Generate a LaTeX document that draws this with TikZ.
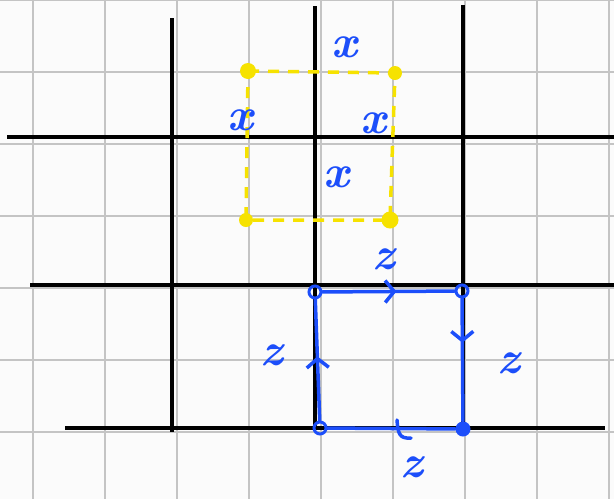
\documentclass[tikz,border=0pt]{standalone}
\usetikzlibrary{arrows.meta,decorations.markings}
\definecolor{gridgray}{RGB}{196,196,196}
\definecolor{bggray}{RGB}{251,251,251}
\definecolor{hlyellow}{RGB}{246,226,0}
\definecolor{penblue}{RGB}{28,78,250}
\begin{document}
\begin{tikzpicture}[x=1pt,y=-1pt,
  gridline/.style={draw=gridgray, line width=2.2pt},
  axisline/.style={draw=black, line width=3.2pt},
  ydash/.style={draw=hlyellow, line width=3.5pt, dash pattern=on 11pt off 9pt},
  ydot/.style={circle, fill=hlyellow, inner sep=0pt, minimum size=14pt},
  bcorner/.style={circle, draw=penblue, line width=3pt, inner sep=0pt, minimum size=12pt},
  bfilled/.style={circle, fill=penblue, inner sep=0pt, minimum size=15pt},
  bedge/.style={draw=penblue, line width=3.5pt, line cap=round},
  midarrow/.style={postaction={decorate}, decoration={markings,
     mark=at position #1 with {\arrow[penblue, line width=3.5pt]{Straight Barb[length=9pt,width=22pt]}}}},
  lbl/.style={text=penblue, inner sep=0pt, font=\fontsize{46}{46}\selectfont\bfseries\itshape},
]
\fill[bggray] (0,0) rectangle (614,499);
\useasboundingbox (0,0) rectangle (614,499);
% grid
\foreach \gx in {33,105,...,609} \draw[gridline] (\gx,0) -- (\gx,499);
\foreach \gy in {0,72,...,432} \draw[gridline] (0,\gy) -- (614,\gy);
% black lines
\draw[axisline] (7,137) -- (614,137);
\draw[axisline] (30,285) -- (614,285);
\draw[axisline] (65,428) -- (605,428);
\draw[axisline] (172,18) -- (172,432);
\draw[axisline] (315,6) -- (315,430);
\draw[axisline] (463,5) -- (463,429);
% yellow dashed square
\node[ydot, minimum size=16pt] (y1) at (248,71) {};
\node[ydot] (y2) at (395,73) {};
\node[ydot, minimum size=17pt] (y3) at (390,220) {};
\node[ydot] (y4) at (246,220) {};
\draw[ydash] (y1.center) -- (y2.center) -- (y3.center) -- (y4.center) -- cycle;
% blue labels x
\node[lbl] (xt) at (344,47) {x};
\node[lbl] (xl) at (240,120) {x};
\node[lbl] (xr) at (373,123) {x};
\node[lbl] (xc) at (336,177) {x};
% blue square
\node[bcorner] (b1) at (315,292) {};
\node[bcorner] (b2) at (462,291) {};
\node[bfilled] (b3) at (463,429) {};
\node[bcorner] (b4) at (320,428) {};
\draw[bedge, midarrow=0.56] (b1) -- (b2);
\draw[bedge, midarrow=0.36] (b2) -- (b3);
\draw[bedge] (b3) -- (b4);
\draw[bedge, midarrow=0.53] (b4) -- (b1);
\draw[bedge] (397,420) .. controls (398,433) and (399,439) .. (411,438);
% blue labels z
\node[lbl] (zt) at (384,259) {z};
\node[lbl] (zl) at (272,355) {z};
\node[lbl] (zr) at (509,363) {z};
\node[lbl] (zb) at (412,467) {z};
\end{tikzpicture}
\end{document}
